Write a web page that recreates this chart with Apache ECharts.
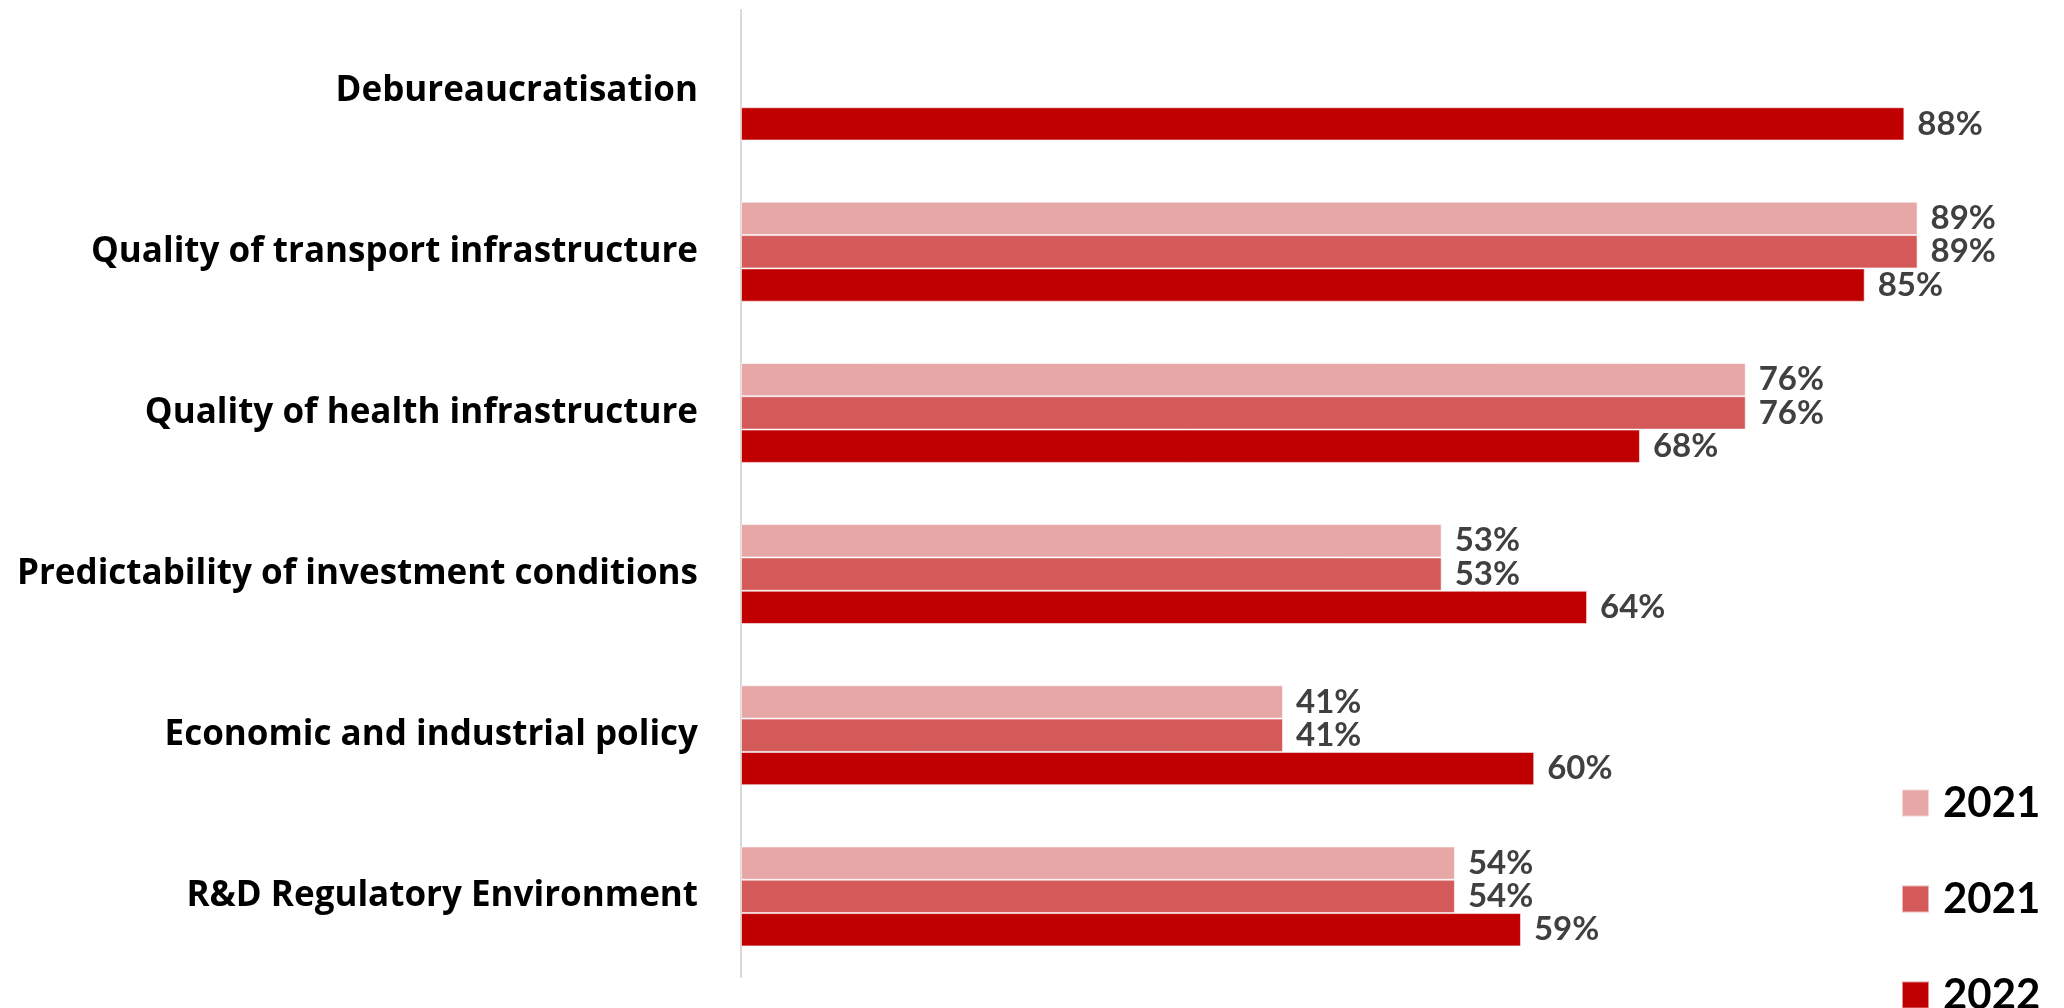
<!DOCTYPE html>
<html>
<head>
<meta charset="utf-8">
<script src="https://cdn.jsdelivr.net/npm/echarts@6/dist/echarts.min.js"></script>
<style>
  html, body { margin: 0; padding: 0; background: #fff; }
  #chart { width: 2064px; height: 1008px; }
</style>
</head>
<body>
<div id="chart"></div>
<script>
// Survey categories, top to bottom
const categories = [
  'Debureaucratisation',
  'Quality of transport infrastructure',
  'Quality of health infrastructure',
  'Predictability of investment conditions',
  'Economic and industrial policy',
  'R&D Regulatory Environment'
];

// Share of respondents (%) per series; null where no value was surveyed
const values2021a = [null, 89, 76, 53, 41, 54];
const values2021b = [null, 89, 76, 53, 41, 54];
const values2022  = [88, 85, 68, 64, 60, 59];

// Legend labels shown next to the swatches
const seriesKeys   = ['s2021a', 's2021b', 's2022'];
const legendLabels = { s2021a: '2021', s2021b: '2021', s2022: '2022' };
const seriesColors = ['#E8A7A7', '#D45959', '#C00000'];
const seriesData   = [values2021a, values2021b, values2022];

const FONT = 'Lato, "Open Sans", sans-serif';
const CAT_FONT = '"Open Sans", Lato, sans-serif';

const chart = echarts.init(document.getElementById('chart'), null, { renderer: 'canvas' });

chart.setOption({
  backgroundColor: '#ffffff',
  animation: false,
  grid: {
    left: 741, right: 1, top: 10, bottom: 31,
    containLabel: false,
    outerBoundsMode: 'none'
  },
  xAxis: {
    type: 'value',
    min: 0,
    max: 100,
    show: false
  },
  yAxis: {
    type: 'category',
    data: categories,
    inverse: true,
    axisTick: { show: false },
    axisLine: { show: true, lineStyle: { color: '#D9D9D9', width: 2 } },
    axisLabel: {
      margin: 43,
      fontFamily: CAT_FONT,
      fontWeight: 'bold',
      fontSize: 35,
      color: '#000000'
    }
  },
  legend: {
    orient: 'vertical',
    left: 1901,
    top: 782,
    height: 300,
    padding: 0,
    icon: 'rect',
    itemWidth: 27,
    itemHeight: 27,
    itemGap: 54,
    formatter: name => legendLabels[name],
    textStyle: {
      fontFamily: FONT,
      fontWeight: 'bold',
      fontSize: 42,
      color: '#000000',
      padding: [0, 0, 0, 9]
    },
    data: seriesKeys
  },
  series: seriesKeys.map((key, i) => ({
    name: key,
    type: 'bar',
    data: seriesData[i],
    barGap: '0%',
    barCategoryGap: '38%',
    itemStyle: {
      color: seriesColors[i],
      borderColor: 'rgba(255,255,255,0.55)',
      borderWidth: 1
    },
    label: {
      show: true,
      position: 'right',
      distance: 13,
      formatter: p => p.value + '%',
      fontFamily: FONT,
      fontWeight: 'bold',
      fontSize: 33,
      color: '#404040'
    }
  }))
});
</script>
</body>
</html>
